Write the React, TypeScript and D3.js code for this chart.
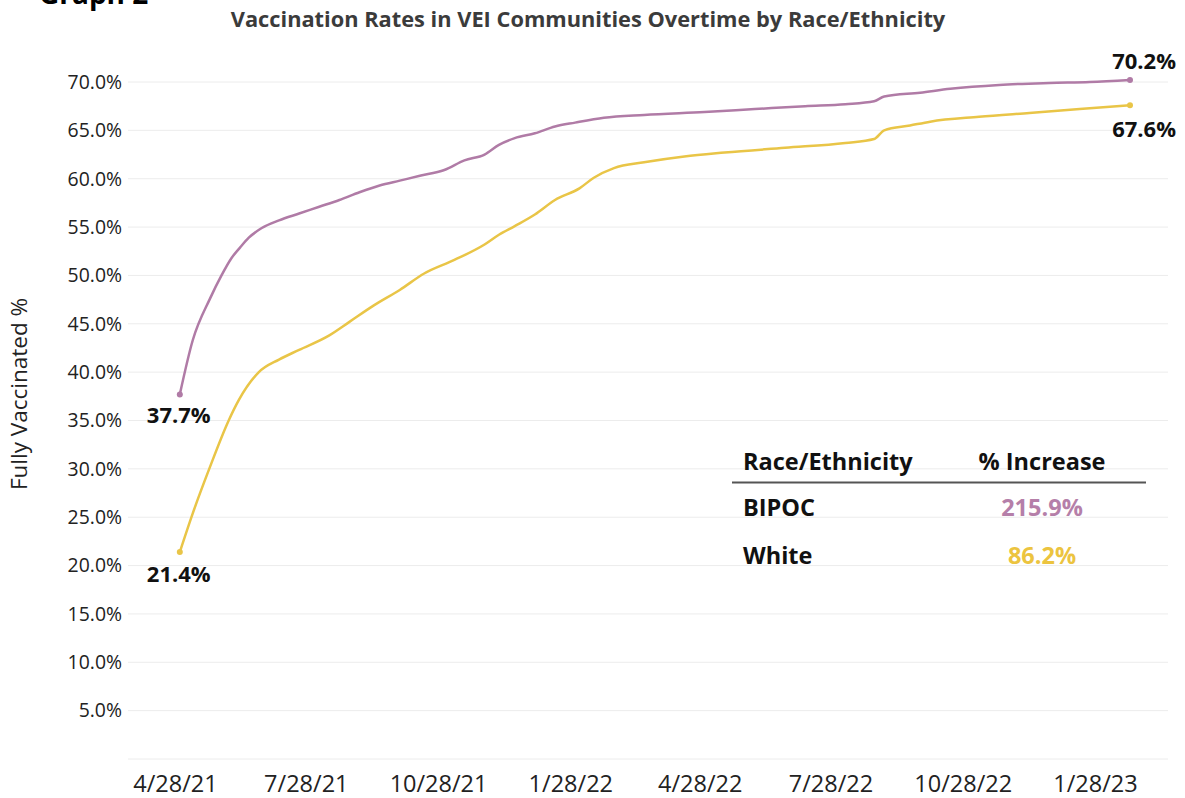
import * as d3 from "d3";
import { useEffect, useRef } from "react";

const bipocDates = [
  "2021-05-01", "2021-05-10", "2021-05-22", "2021-05-30", "2021-06-06",
  "2021-06-12", "2021-06-18", "2021-06-27", "2021-07-09", "2021-07-23", "2021-08-06",
  "2021-08-20", "2021-09-03", "2021-09-17", "2021-10-01", "2021-10-15", "2021-11-01",
  "2021-11-15", "2021-11-29", "2021-12-09", "2021-12-20", "2022-01-03", "2022-01-17",
  "2022-01-31", "2022-02-20", "2022-03-20", "2022-05-01", "2022-06-05", "2022-07-10",
  "2022-08-07", "2022-08-27", "2022-09-03", "2022-09-28", "2022-10-19", "2022-11-22",
  "2022-12-27", "2023-01-24", "2023-02-21",
];
const bipocValues = [
  37.7, 43.3, 47.6, 50.0, 51.8,
  52.9, 53.9, 54.9, 55.7, 56.4, 57.1,
  57.8, 58.6, 59.3, 59.8, 60.3, 60.9,
  61.9, 62.5, 63.5, 64.2, 64.7, 65.4,
  65.8, 66.3, 66.6, 66.9, 67.2, 67.5,
  67.7, 68.0, 68.5, 68.9, 69.3, 69.7,
  69.9, 70.0, 70.2,
];

const whiteDates = [
  "2021-05-01", "2021-05-10", "2021-05-22", "2021-06-04", "2021-06-11", "2021-06-25",
  "2021-07-09", "2021-07-23", "2021-08-13", "2021-08-27", "2021-09-13", "2021-10-01",
  "2021-10-18", "2021-11-08", "2021-11-29", "2021-12-09", "2021-12-20", "2022-01-03",
  "2022-01-17", "2022-02-03", "2022-02-13", "2022-02-27", "2022-03-20", "2022-04-17",
  "2022-05-15", "2022-06-26", "2022-08-07", "2022-08-27", "2022-09-03", "2022-09-21",
  "2022-10-05", "2022-11-08", "2022-12-13", "2023-01-17", "2023-02-21",
];
const whiteValues = [
  21.4, 25.4, 30.2, 35.0, 37.1, 40.0,
  41.3, 42.3, 43.8, 45.2, 46.9, 48.5,
  50.2, 51.6, 53.2, 54.2, 55.1, 56.3,
  57.8, 59.0, 60.1, 61.1, 61.7, 62.3,
  62.7, 63.2, 63.7, 64.1, 65.0, 65.5,
  65.9, 66.4, 66.8, 67.2, 67.6,
];

const yTicks = [5, 10, 15, 20, 25, 30, 35, 40, 45, 50, 55, 60, 65, 70];
const gridValues = [0, 5, 10, 15, 20, 25, 30, 35, 40, 45, 50, 55, 60, 65, 70];
const xTickLabels = ["4/28/21", "7/28/21", "10/28/21", "1/28/22", "4/28/22", "7/28/22", "10/28/22", "1/28/23"];

const groups = ["BIPOC", "White"];
const increases = ["215.9%", "86.2%"];
const colors = ["#b07ba6", "#e9c547"];
const textColors = ["#b57fa9", "#ecc43f"];

const parse = d3.timeParse("%Y-%m-%d");
const parseTick = d3.timeParse("%m/%d/%y");

export default function App() {
  const svgRef = useRef<SVGSVGElement | null>(null);

  useEffect(() => {
    const width = 1185;
    const height = 798;
    const svg = d3.select(svgRef.current);
    svg.selectAll("*").remove();
    svg.attr("width", width).attr("height", height);

    const font = "'Open Sans', sans-serif";

    const x = d3
      .scaleTime()
      .domain([new Date(2021, 3, 28), new Date(2023, 0, 28)])
      .range([175.5, 1095.5]);
    const y = d3.scaleLinear().domain([0, 70]).range([759, 82]);

    // heading cut off at the very top, as in the source
    svg.append("text")
      .attr("x", 39).attr("y", 4)
      .attr("font-family", font).attr("font-weight", 700).attr("font-size", 28)
      .attr("fill", "#000")
      .text("Graph 2");

    svg.append("text")
      .attr("x", 588).attr("y", 27)
      .attr("text-anchor", "middle")
      .attr("font-family", font).attr("font-weight", 700).attr("font-size", 21.8)
      .attr("fill", "#3b3b3b")
      .text("Vaccination Rates in VEI Communities Overtime by Race/Ethnicity");

    // gridlines
    svg.append("g")
      .selectAll("line")
      .data(gridValues)
      .join("line")
      .attr("x1", 128).attr("x2", 1168)
      .attr("y1", (d) => y(d)).attr("y2", (d) => y(d))
      .attr("stroke", "#ececec").attr("stroke-width", 1);

    // y tick labels
    svg.append("g")
      .selectAll("text")
      .data(yTicks)
      .join("text")
      .attr("x", 122)
      .attr("y", (d) => y(d))
      .attr("dy", "0.35em")
      .attr("text-anchor", "end")
      .attr("font-family", font).attr("font-size", 19.4)
      .attr("fill", "#222")
      .text((d) => d3.format(".1f")(d) + "%");

    // x tick labels
    svg.append("g")
      .selectAll("text")
      .data(xTickLabels)
      .join("text")
      .attr("x", (d) => x(parseTick(d) as Date))
      .attr("y", 792)
      .attr("text-anchor", "middle")
      .attr("font-family", font).attr("font-size", 23.5)
      .attr("fill", "#222")
      .text((d) => d);

    svg.append("text")
      .attr("transform", `translate(27, 394) rotate(-90)`)
      .attr("text-anchor", "middle")
      .attr("font-family", font).attr("font-size", 22.5)
      .attr("fill", "#222")
      .text("Fully Vaccinated %");

    const series = [
      bipocDates.map((d, i) => ({ date: parse(d) as Date, value: bipocValues[i] })),
      whiteDates.map((d, i) => ({ date: parse(d) as Date, value: whiteValues[i] })),
    ];

    const line = d3
      .line<{ date: Date; value: number }>()
      .x((d) => x(d.date))
      .y((d) => y(d.value))
      .curve(d3.curveMonotoneX);

    series.forEach((s, i) => {
      svg.append("path")
        .datum(s)
        .attr("fill", "none")
        .attr("stroke", colors[i])
        .attr("stroke-width", 2.5)
        .attr("d", line);

      const ends = [s[0], s[s.length - 1]];
      svg.append("g")
        .selectAll("circle")
        .data(ends)
        .join("circle")
        .attr("cx", (d) => x(d.date))
        .attr("cy", (d) => y(d.value))
        .attr("r", 3)
        .attr("fill", colors[i]);
    });

    // end point labels
    const b0 = series[0][0];
    const b1 = series[0][series[0].length - 1];
    const w0 = series[1][0];
    const w1 = series[1][series[1].length - 1];
    const endLabels = [
      { d: b0, dx: -33, dy: 29, anchor: "start" },
      { d: w0, dx: -33, dy: 30, anchor: "start" },
      { d: b1, dx: 46, dy: -11, anchor: "end" },
      { d: w1, dx: 46, dy: 32, anchor: "end" },
    ];
    svg.append("g")
      .selectAll("text")
      .data(endLabels)
      .join("text")
      .attr("x", (l) => x(l.d.date) + l.dx)
      .attr("y", (l) => y(l.d.value) + l.dy)
      .attr("text-anchor", (l) => l.anchor)
      .attr("font-family", font).attr("font-weight", 700).attr("font-size", 22)
      .attr("fill", "#111")
      .text((l) => d3.format(".1f")(l.d.value) + "%");

    // summary table
    const table = svg.append("g").attr("font-family", font).attr("font-weight", 700).attr("font-size", 23.5);
    table.append("text").attr("x", 743).attr("y", 470).attr("fill", "#111").text("Race/Ethnicity");
    table.append("text").attr("x", 1042).attr("y", 470).attr("text-anchor", "middle").attr("fill", "#111").text("% Increase");
    table.append("line")
      .attr("x1", 732).attr("x2", 1146).attr("y1", 482.5).attr("y2", 482.5)
      .attr("stroke", "#555").attr("stroke-width", 2);
    groups.forEach((g, i) => {
      const yy = 516 + i * 48;
      table.append("text").attr("x", 743).attr("y", yy).attr("fill", "#111").text(g);
      table.append("text").attr("x", 1042).attr("y", yy).attr("text-anchor", "middle")
        .attr("fill", textColors[i]).text(increases[i]);
    });
  }, []);

  return (
    <svg
      ref={svgRef}
      width={1185}
      height={798}
      style={{ position: "absolute", left: 0, top: 0, background: "#fff" }}
    />
  );
}
